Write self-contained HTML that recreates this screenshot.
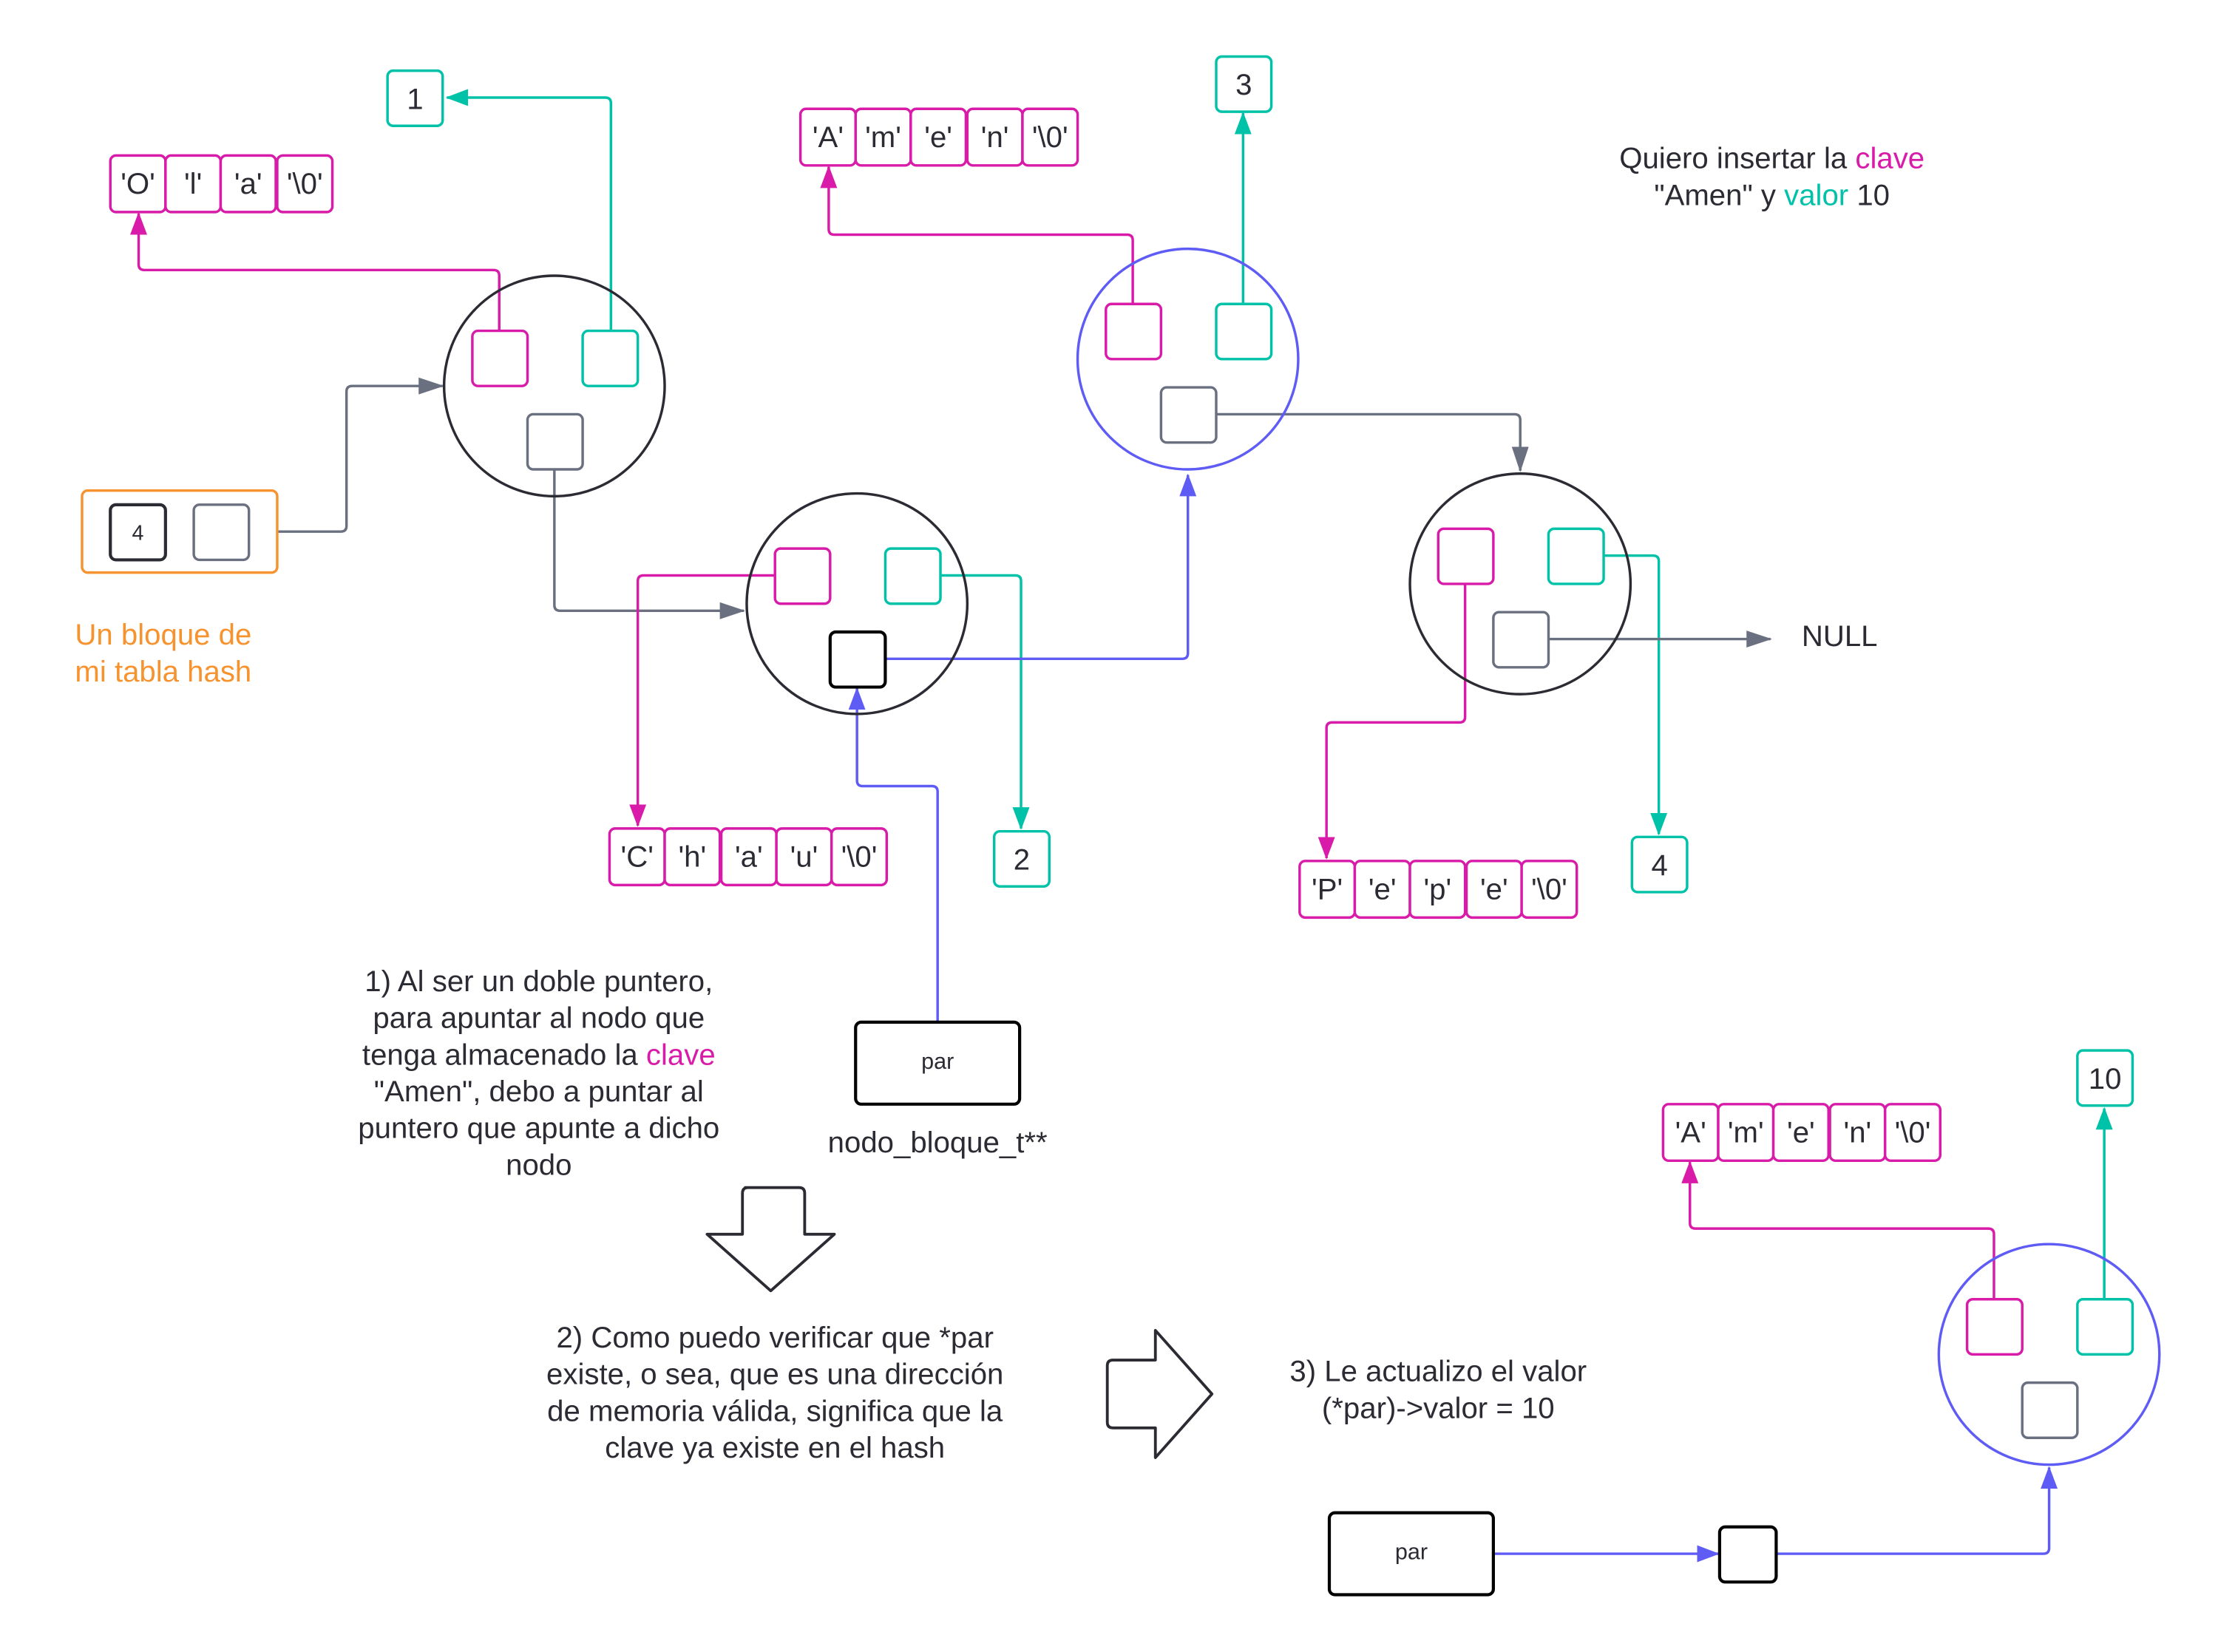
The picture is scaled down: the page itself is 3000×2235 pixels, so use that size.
<!DOCTYPE html>
<html><head><meta charset="utf-8"><style>
html,body{margin:0;padding:0;background:#fff;}
svg{display:block;}
text{font-family:"Liberation Sans",sans-serif;fill:#2b2b33;}
</style></head><body>
<svg width="3000" height="2235" viewBox="0 0 1568.4 1168.5" xmlns="http://www.w3.org/2000/svg">
<defs>
<marker id="mp" markerWidth="16" markerHeight="12" refX="15" refY="6" orient="auto" markerUnits="userSpaceOnUse"><path d="M0,0 L16,6 L0,12 z" fill="#d81ba8"/></marker>
<marker id="mt" markerWidth="16" markerHeight="12" refX="15" refY="6" orient="auto" markerUnits="userSpaceOnUse"><path d="M0,0 L16,6 L0,12 z" fill="#00c2a8"/></marker>
<marker id="mb" markerWidth="16" markerHeight="12" refX="15" refY="6" orient="auto" markerUnits="userSpaceOnUse"><path d="M0,0 L16,6 L0,12 z" fill="#5e5cf5"/></marker>
<marker id="mg" markerWidth="18" markerHeight="12" refX="17" refY="6" orient="auto" markerUnits="userSpaceOnUse"><path d="M0,0 L18,6 L0,12 z" fill="#6b7080"/></marker>
</defs>
<g fill="none" stroke-width="1.8" stroke-linejoin="round">
<path d="M432,234 V73 Q432,69 428,69 H316" stroke="#00c2a8" marker-end="url(#mt)"/>
<path d="M353,234 V195 Q353,191 349,191 H102 Q98,191 98,187 V151" stroke="#d81ba8" marker-end="url(#mp)"/>
<path d="M176,376 H241 Q245,376 245,372 V277 Q245,273 249,273 H313" stroke="#6b7080" marker-end="url(#mg)"/>
<path d="M392,332 V428 Q392,432 396,432 H526" stroke="#6b7080" marker-end="url(#mg)"/>
<path d="M548,407 H455 Q451,407 451,411 V584" stroke="#d81ba8" marker-end="url(#mp)"/>
<path d="M665,407 H718 Q722,407 722,411 V586" stroke="#00c2a8" marker-end="url(#mt)"/>
<path d="M626,466 H836 Q840,466 840,462 V336" stroke="#5e5cf5" marker-end="url(#mb)"/>
<path d="M663,722 V560 Q663,556 659,556 H610 Q606,556 606,552 V487" stroke="#5e5cf5" marker-end="url(#mb)"/>
<path d="M801,215 V170 Q801,166 797,166 H590 Q586,166 586,162 V118" stroke="#d81ba8" marker-end="url(#mp)"/>
<path d="M879,215 V80" stroke="#00c2a8" marker-end="url(#mt)"/>
<path d="M860,293 H1071 Q1075,293 1075,297 V333" stroke="#6b7080" marker-end="url(#mg)"/>
<path d="M1134,393 H1169 Q1173,393 1173,397 V590" stroke="#00c2a8" marker-end="url(#mt)"/>
<path d="M1036,413 V507 Q1036,511 1032,511 H942 Q938,511 938,515 V607" stroke="#d81ba8" marker-end="url(#mp)"/>
<path d="M1095,452 H1252" stroke="#6b7080" marker-end="url(#mg)"/>
<path d="M1056,1099 H1215" stroke="#5e5cf5" marker-end="url(#mb)"/>
<path d="M1256,1099 H1445 Q1449,1099 1449,1095 V1038" stroke="#5e5cf5" marker-end="url(#mb)"/>
<path d="M1410,919 V873 Q1410,869 1406,869 H1199 Q1195,869 1195,865 V822" stroke="#d81ba8" marker-end="url(#mp)"/>
<path d="M1488,919 V784" stroke="#00c2a8" marker-end="url(#mt)"/>

<circle cx="392" cy="273" r="78" stroke="#2b2b33"/>
<circle cx="606" cy="427" r="78" stroke="#2b2b33"/>
<circle cx="840" cy="254" r="78" stroke="#5e5cf5"/>
<circle cx="1075" cy="413" r="78" stroke="#2b2b33"/>
<circle cx="1449" cy="958" r="78" stroke="#5e5cf5"/>

<g fill="#fff">
<rect x="334" y="234" width="39" height="39" rx="4" stroke="#d81ba8"/>
<rect x="412" y="234" width="39" height="39" rx="4" stroke="#00c2a8"/>
<rect x="373" y="293" width="39" height="39" rx="4" stroke="#6b7080"/>
<rect x="548" y="388" width="39" height="39" rx="4" stroke="#d81ba8"/>
<rect x="626" y="388" width="39" height="39" rx="4" stroke="#00c2a8"/>
<rect x="587" y="447" width="39" height="39" rx="4" stroke="#000" stroke-width="2.2"/>
<rect x="782" y="215" width="39" height="39" rx="4" stroke="#d81ba8"/>
<rect x="860" y="215" width="39" height="39" rx="4" stroke="#00c2a8"/>
<rect x="821" y="274" width="39" height="39" rx="4" stroke="#6b7080"/>
<rect x="1017" y="374" width="39" height="39" rx="4" stroke="#d81ba8"/>
<rect x="1095" y="374" width="39" height="39" rx="4" stroke="#00c2a8"/>
<rect x="1056" y="433" width="39" height="39" rx="4" stroke="#6b7080"/>
<rect x="1391" y="919" width="39" height="39" rx="4" stroke="#d81ba8"/>
<rect x="1469" y="919" width="39" height="39" rx="4" stroke="#00c2a8"/>
<rect x="1430" y="978" width="39" height="39" rx="4" stroke="#6b7080"/>
<rect x="58" y="347" width="138" height="58" rx="4" stroke="#f7932f"/>
<rect x="78" y="357" width="39" height="39" rx="4" stroke="#2b2b33" stroke-width="2.2"/>
<rect x="137" y="357" width="39" height="39" rx="4" stroke="#6b7080"/>
<rect x="274" y="50" width="39" height="39" rx="4" stroke="#00c2a8"/>
<rect x="860" y="40" width="39" height="39" rx="4" stroke="#00c2a8"/>
<rect x="703" y="588" width="39" height="39" rx="4" stroke="#00c2a8"/>
<rect x="1154" y="592" width="39" height="39" rx="4" stroke="#00c2a8"/>
<rect x="1469" y="743" width="39" height="39" rx="4" stroke="#00c2a8"/>
<rect x="605" y="723" width="116" height="58" rx="4" stroke="#000" stroke-width="2.2"/>
<rect x="940" y="1070" width="116" height="58" rx="4" stroke="#000" stroke-width="2.2"/>
<rect x="1216" y="1080" width="40" height="39" rx="4" stroke="#000" stroke-width="2.2"/>
</g>
<g stroke="#d81ba8" fill="#fff">
<rect x="78" y="110" width="39" height="40" rx="4"/><rect x="117" y="110" width="39" height="40" rx="4"/><rect x="156" y="110" width="39" height="40" rx="4"/><rect x="196" y="110" width="39" height="40" rx="4"/>
<rect x="566" y="77" width="39" height="40" rx="4"/><rect x="605" y="77" width="39" height="40" rx="4"/><rect x="644" y="77" width="39" height="40" rx="4"/><rect x="684" y="77" width="39" height="40" rx="4"/><rect x="723" y="77" width="39" height="40" rx="4"/>
<rect x="431" y="586" width="39" height="40" rx="4"/><rect x="470" y="586" width="39" height="40" rx="4"/><rect x="510" y="586" width="39" height="40" rx="4"/><rect x="549" y="586" width="39" height="40" rx="4"/><rect x="588" y="586" width="39" height="40" rx="4"/>
<rect x="919" y="609" width="39" height="40" rx="4"/><rect x="958" y="609" width="39" height="40" rx="4"/><rect x="997" y="609" width="39" height="40" rx="4"/><rect x="1037" y="609" width="39" height="40" rx="4"/><rect x="1076" y="609" width="39" height="40" rx="4"/>
<rect x="1176" y="781" width="39" height="40" rx="4"/><rect x="1215" y="781" width="39" height="40" rx="4"/><rect x="1254" y="781" width="39" height="40" rx="4"/><rect x="1294" y="781" width="39" height="40" rx="4"/><rect x="1333" y="781" width="39" height="40" rx="4"/>
</g>
<path d="M527,840 H565 Q569,840 569,844 V873 H590 L545,913 L500,873 H525 V844 Q525,840 529,840 Z" stroke="#2b2b33" stroke-width="2"/>
<path d="M783,966 Q783,962 787,962 H817 V941 L857,986 L817,1031 V1010 H787 Q783,1010 783,1006 Z" stroke="#2b2b33" stroke-width="2"/>
</g>

<g font-size="21" text-anchor="middle">
<text x="97.5" y="137">'O'</text><text x="136.5" y="137">'l'</text><text x="175.5" y="137">'a'</text><text x="215.5" y="137">'\0'</text>
<text x="585.5" y="104">'A'</text><text x="624.5" y="104">'m'</text><text x="663.5" y="104">'e'</text><text x="703.5" y="104">'n'</text><text x="742.5" y="104">'\0'</text>
<text x="450.5" y="613">'C'</text><text x="489.5" y="613">'h'</text><text x="529.5" y="613">'a'</text><text x="568.5" y="613">'u'</text><text x="607.5" y="613">'\0'</text>
<text x="938.5" y="636">'P'</text><text x="977.5" y="636">'e'</text><text x="1016.5" y="636">'p'</text><text x="1056.5" y="636">'e'</text><text x="1095.5" y="636">'\0'</text>
<text x="1195.5" y="808">'A'</text><text x="1234.5" y="808">'m'</text><text x="1273.5" y="808">'e'</text><text x="1313.5" y="808">'n'</text><text x="1352.5" y="808">'\0'</text>
<text x="293.5" y="77">1</text><text x="879.5" y="67">3</text><text x="722.5" y="615">2</text><text x="1173.5" y="619">4</text><text x="1488.5" y="770">10</text>
<text x="97.5" y="382" font-size="15">4</text>
<text x="663" y="756" font-size="16" fill="#000">par</text>
<text x="998" y="1103" font-size="16" fill="#000">par</text>
<text x="663" y="815">nodo_bloque_t**</text>
<text x="1253" y="119">Quiero insertar la <tspan fill="#d81ba8">clave</tspan></text>
<text x="1253" y="145">"Amen" y <tspan fill="#00c2a8">valor</tspan> 10</text>
<text x="381" y="701">1) Al ser un doble puntero,</text>
<text x="381" y="727">para apuntar al nodo que</text>
<text x="381" y="753">tenga almacenado la <tspan fill="#d81ba8">clave</tspan></text>
<text x="381" y="779">"Amen", debo a puntar al</text>
<text x="381" y="805">puntero que apunte a dicho</text>
<text x="381" y="831">nodo</text>
<text x="548" y="953">2) Como puedo verificar que *par</text>
<text x="548" y="979">existe, o sea, que es una dirección</text>
<text x="548" y="1005">de memoria válida, significa que la</text>
<text x="548" y="1031">clave ya existe en el hash</text>
<text x="1017" y="977">3) Le actualizo el valor</text>
<text x="1017" y="1003">(*par)-&gt;valor = 10</text>
</g>
<text x="1274" y="457" font-size="21">NULL</text>
<text x="53" y="456" font-size="21" style="fill:#f7932f">Un bloque de</text>
<text x="53" y="482" font-size="21" style="fill:#f7932f">mi tabla hash</text>
</svg>
</body></html>
